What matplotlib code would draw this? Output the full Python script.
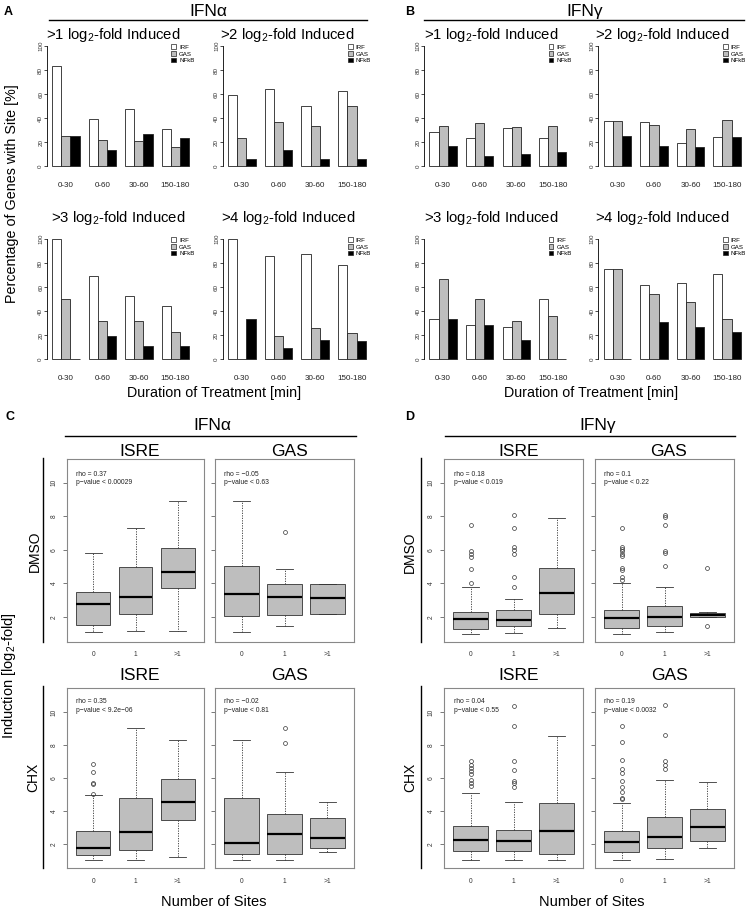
import matplotlib
matplotlib.use('Agg')
import matplotlib.pyplot as plt
from matplotlib.patches import Patch
from matplotlib.lines import Line2D

plt.rcParams['font.family'] = ['Liberation Sans', 'DejaVu Sans']
plt.rcParams['mathtext.default'] = 'regular'

# ---------------- data ----------------
time_windows = ['0-30', '0-60', '30-60', '150-180']
motifs = ['IRF', 'GAS', 'NFkB']
motif_colors = ['white', '#BEBEBE', 'black']

# percentage of genes with site, rows = IRF, GAS, NFkB ; columns = time windows
ifna_gt1 = [[83.3, 39.4, 47.8, 31.0], [25.0, 21.8, 21.2, 15.9], [25.0, 13.1, 26.5, 23.2]]
ifna_gt2 = [[59.1, 64.0, 50.0, 62.5], [23.5, 36.4, 33.3, 50.0], [5.9, 13.6, 5.6, 6.2]]
ifna_gt3 = [[100.0, 68.8, 52.6, 44.4], [50.0, 31.3, 31.6, 22.2], [0.0, 18.8, 10.5, 11.1]]
ifna_gt4 = [[100.0, 85.7, 87.1, 78.3], [0.0, 19.0, 25.8, 21.7], [33.3, 9.5, 16.1, 15.2]]
ifng_gt1 = [[28.0, 23.7, 31.5, 23.0], [33.3, 35.5, 32.6, 33.3], [16.7, 8.6, 9.8, 12.0]]
ifng_gt2 = [[37.5, 37.0, 19.5, 24.0], [37.5, 34.0, 31.0, 38.0], [25.0, 17.0, 15.5, 24.0]]
ifng_gt3 = [[33.3, 28.6, 26.3, 50.0], [66.7, 50.0, 31.6, 35.7], [33.3, 28.6, 15.8, 0.0]]
ifng_gt4 = [[75.0, 61.5, 63.2, 70.6], [75.0, 53.8, 47.4, 33.3], [0.0, 30.8, 26.3, 22.2]]

site_labels = ['0', '1', '>1']
# boxplot stats: whisker low, q1, median, q3, whisker high, outliers (per site count)
c_dmso_isre = dict(lo=[1.09, 1.15, 1.17], q1=[1.53, 2.15, 3.72], med=[2.75, 3.15, 4.68],
                   q3=[3.48, 4.94, 6.11], hi=[5.83, 7.30, 8.92], out=[[], [], []])
c_dmso_gas = dict(lo=[1.11, 1.45, 2.17], q1=[2.03, 2.09, 2.17], med=[3.38, 3.18, 3.09],
                  q3=[5.03, 3.94, 3.98], hi=[8.92, 4.87, 3.98], out=[[], [7.04], []])
c_chx_isre = dict(lo=[1.04, 1.00, 1.18], q1=[1.30, 1.66, 3.44], med=[1.76, 2.74, 4.52],
                  q3=[2.80, 4.78, 5.94], hi=[4.98, 9.04, 8.30],
                  out=[[5.06, 5.66, 5.70, 6.39, 6.83], [], []])
c_chx_gas = dict(lo=[1.04, 1.00, 1.48], q1=[1.40, 1.40, 1.74], med=[2.06, 2.58, 2.34],
                 q3=[4.80, 3.80, 3.58], hi=[8.30, 6.38, 4.54], out=[[], [8.10, 9.04], []])
d_dmso_isre = dict(lo=[0.94, 1.00, 1.30], q1=[1.26, 1.44, 2.14], med=[1.88, 1.82, 3.40],
                   q3=[2.30, 2.38, 4.90], hi=[3.80, 3.08, 7.90],
                   out=[[4.00, 4.84, 5.56, 5.76, 5.90, 7.46],
                        [3.80, 4.36, 5.76, 6.00, 6.16, 7.28, 8.10], []])
d_dmso_gas = dict(lo=[0.96, 1.06, 2.00], q1=[1.30, 1.46, 2.00], med=[1.90, 1.96, 2.12],
                  q3=[2.40, 2.64, 2.24], hi=[4.04, 3.80, 2.26],
                  out=[[4.20, 4.40, 4.80, 4.90, 5.60, 5.76, 5.90, 6.02, 6.18, 7.30],
                       [5.02, 5.80, 5.90, 7.46, 7.96, 8.10], [1.44, 4.90]])
d_chx_isre = dict(lo=[1.00, 1.00, 1.00], q1=[1.60, 1.60, 1.36], med=[2.24, 2.18, 2.76],
                  q3=[3.10, 2.86, 4.50], hi=[5.10, 4.54, 8.58],
                  out=[[5.54, 5.70, 5.86, 6.26, 6.40, 6.60, 6.80, 7.06],
                       [5.46, 5.70, 5.80, 6.46, 7.06, 9.14, 10.40], []])
d_chx_gas = dict(lo=[1.00, 1.10, 1.76], q1=[1.50, 1.74, 2.20], med=[2.10, 2.40, 3.00],
                 q3=[2.80, 3.62, 4.12], hi=[4.50, 5.86, 5.78],
                 out=[[4.74, 4.80, 5.14, 5.46, 5.80, 6.30, 6.54, 7.10, 8.20, 9.16],
                      [6.54, 6.80, 7.06, 8.60, 10.44], []])
rho_texts = {'c_dmso_isre': ('0.37', '0.00029'), 'c_dmso_gas': ('\u22120.05', '0.63'),
             'c_chx_isre': ('0.35', '9.2e\u221206'), 'c_chx_gas': ('\u22120.02', '0.81'),
             'd_dmso_isre': ('0.18', '0.019'), 'd_dmso_gas': ('0.1', '0.22'),
             'd_chx_isre': ('0.04', '0.55'), 'd_chx_gas': ('0.19', '0.0032')}

# ---------------- figure ----------------
W, H = 748, 909
fig = plt.figure(figsize=(W / 100, H / 100), dpi=100)


def ax_px(x0, y0, x1, y1):
    return fig.add_axes([x0 / W, 1 - y1 / H, (x1 - x0) / W, (y1 - y0) / H])


def ftext(x, y, s, **kw):
    fig.text(x / W, 1 - y / H, s, **kw)


def fline(x0, x1, y0, y1, lw=1.0):
    fig.add_artist(Line2D([x0 / W, x1 / W], [1 - y0 / H, 1 - y1 / H],
                          color='black', lw=lw, transform=fig.transFigure))


def bar_panel(rect, data):
    ax = ax_px(*rect)
    for m, vals in enumerate(data):
        lefts = [1 + g * 4 + m for g in range(len(time_windows))]
        ax.bar(lefts, vals, width=1, align='edge', color=motif_colors[m],
               edgecolor='#222222', linewidth=0.6)
    ax.set_xlim(0.4, 16.6)
    ax.set_ylim(-4, 104)
    for s in ['top', 'right', 'bottom']:
        ax.spines[s].set_visible(False)
    ax.spines['left'].set_bounds(0, 100)
    ax.spines['left'].set_linewidth(0.6)
    ax.set_yticks([0, 20, 40, 60, 80, 100])
    ax.tick_params(axis='y', length=2, width=0.5, labelsize=4.5, pad=0.5,
                   labelcolor='#333333')
    for lab in ax.get_yticklabels():
        lab.set_rotation(90)
        lab.set_va('center')
    ax.set_xticks([2.5 + 4 * g for g in range(len(time_windows))], time_windows)
    ax.tick_params(axis='x', length=0, labelsize=5.8, pad=8, labelcolor='#222222')
    handles = [Patch(facecolor=c, edgecolor='#222222', linewidth=0.5) for c in motif_colors]
    ax.legend(handles, motifs, loc='upper right', bbox_to_anchor=(1.0, 0.975), frameon=False,
              fontsize=4.4, handlelength=0.8, handleheight=0.8, handletextpad=0.5,
              labelspacing=0.2, borderpad=0, borderaxespad=0)
    return ax


# Panel A
bar_panel((46.7, 41.2, 194.5, 170.8), ifna_gt1)
bar_panel((222.5, 41.2, 371.2, 170.8), ifna_gt2)
bar_panel((46.7, 234.2, 194.5, 363.8), ifna_gt3)
bar_panel((222.5, 234.2, 371.2, 363.8), ifna_gt4)
# Panel B
bar_panel((424.0, 41.2, 571.9, 170.8), ifng_gt1)
bar_panel((598.3, 41.2, 746.2, 170.8), ifng_gt2)
bar_panel((424.0, 234.2, 571.9, 363.8), ifng_gt3)
bar_panel((598.3, 234.2, 746.2, 363.8), ifng_gt4)

sub_fs = 10.7
ftext(8.5, 12, 'A', fontsize=9, fontweight='bold', ha='center', va='center')
ftext(208, 16, 'IFN\u03b1', fontsize=12.5, ha='center', va='baseline')
fline(49, 367, 20, 20)
ftext(410, 12, 'B', fontsize=9, fontweight='bold', ha='center', va='center')
ftext(585, 16, 'IFN\u03b3', fontsize=12.5, ha='center', va='baseline')
fline(424, 744, 20, 20)
for (x, y, t) in [(113.3, 39.3, '>1'), (287.5, 39.3, '>2'), (118.3, 221.7, '>3'), (288.3, 221.7, '>4'),
                  (491.5, 39.3, '>1'), (662.3, 39.3, '>2'), (491.5, 221.7, '>3'), (662.3, 221.7, '>4')]:
    ftext(x, y, t + ' log$_2$-fold Induced', fontsize=sub_fs, ha='center', va='baseline')
ftext(12, 194, 'Percentage of Genes with Site [%]', fontsize=10.3, rotation=90,
      ha='center', va='center')
ftext(214, 393, 'Duration of Treatment [min]', fontsize=10.3, ha='center', va='center')
ftext(591, 393, 'Duration of Treatment [min]', fontsize=10.3, ha='center', va='center')


def box_panel(rect, d, key, left_labels):
    ax = ax_px(*rect)
    stats = []
    for i in range(3):
        stats.append(dict(med=d['med'][i], q1=d['q1'][i], q3=d['q3'][i],
                          whislo=d['lo'][i], whishi=d['hi'][i], fliers=d['out'][i]))
    ax.bxp(stats, positions=[1, 2, 3], widths=0.8, capwidths=0.4, patch_artist=True,
           manage_ticks=False,
           boxprops=dict(facecolor='#BEBEBE', edgecolor='#333333', linewidth=0.6),
           medianprops=dict(color='black', linewidth=1.6, solid_capstyle='butt'),
           whiskerprops=dict(color='#333333', linewidth=0.6, linestyle=(0, (1.5, 1.5))),
           capprops=dict(color='#333333', linewidth=0.6),
           flierprops=dict(marker='o', markerfacecolor='none', markeredgecolor='#333333',
                           markersize=2.8, markeredgewidth=0.5))
    ax.set_xlim(0.38, 3.62)
    ax.set_ylim(0.52, 11.45)
    for s in ax.spines.values():
        s.set_color('#888888')
        s.set_linewidth(0.8)
    ax.set_yticks([2, 4, 6, 8, 10])
    ax.tick_params(axis='y', length=3, width=0.5, color='#444444', labelsize=4.8, pad=3.5,
                   labelleft=left_labels, labelcolor='#333333')
    for lab in ax.get_yticklabels():
        lab.set_rotation(90)
        lab.set_va('center')
    ax.set_xticks([1, 2, 3], site_labels)
    ax.tick_params(axis='x', length=0, labelsize=4.8, pad=7, labelcolor='#333333')
    rho, p = rho_texts[key]
    return ax, rho, p


box_specs = [
    ((67, 458.5, 204, 641.5), c_dmso_isre, 'c_dmso_isre', True, 474.5),
    ((215, 458.5, 354, 641.5), c_dmso_gas, 'c_dmso_gas', False, 474.5),
    ((67, 688.3, 204, 868.3), c_chx_isre, 'c_chx_isre', True, 701.7),
    ((215, 688.3, 354, 868.3), c_chx_gas, 'c_chx_gas', False, 701.7),
    ((444, 458.5, 583.3, 641.5), d_dmso_isre, 'd_dmso_isre', True, 474.5),
    ((595, 458.5, 734, 641.5), d_dmso_gas, 'd_dmso_gas', False, 474.5),
    ((444, 688.3, 583.3, 868.3), d_chx_isre, 'd_chx_isre', True, 701.7),
    ((595, 688.3, 734, 868.3), d_chx_gas, 'd_chx_gas', False, 701.7),
]
for rect, d, key, ll, ty in box_specs:
    ax, rho, p = box_panel(rect, d, key, ll)
    ftext(rect[0] + 9.5, ty, 'rho = ' + rho, fontsize=4.9, ha='left', va='center',
          color='#222222')
    ftext(rect[0] + 9.5, ty + 8.3, 'p\u2212value < ' + p, fontsize=4.9, ha='left', va='center',
          color='#222222')

# Panel C/D headers and labels
ftext(10, 417, 'C', fontsize=9, fontweight='bold', ha='center', va='center')
ftext(212, 430, 'IFN\u03b1', fontsize=12.5, ha='center', va='baseline')
fline(65, 356, 436, 436)
ftext(410, 417, 'D', fontsize=9, fontweight='bold', ha='center', va='center')
ftext(598, 430, 'IFN\u03b3', fontsize=12.5, ha='center', va='baseline')
fline(445, 735, 436, 436)
for (x, y, t) in [(140, 456.5, 'ISRE'), (289, 456.5, 'GAS'), (140, 680, 'ISRE'), (289, 680, 'GAS'),
                  (518.7, 456.5, 'ISRE'), (668.5, 456.5, 'GAS'), (518.7, 680, 'ISRE'), (669, 680, 'GAS')]:
    ftext(x, y, t, fontsize=12.5, ha='center', va='baseline')
for (x, y, t) in [(35, 551, 'DMSO'), (33.5, 777, 'CHX'), (410, 552, 'DMSO'), (410.5, 777, 'CHX')]:
    ftext(x, y, t, fontsize=10, rotation=90, ha='center', va='center')
fline(43.3, 43.3, 458.3, 642.3)
fline(43.3, 43.3, 686, 868.3)
fline(420.7, 420.7, 458.3, 642.3)
fline(420.7, 420.7, 686, 868.3)
ftext(9, 676, 'Induction [log$_2$-fold]', fontsize=10.5, rotation=90, ha='center', va='center')
ftext(213.3, 902, 'Number of Sites', fontsize=10.5, ha='center', va='center')
ftext(591.5, 902, 'Number of Sites', fontsize=10.5, ha='center', va='center')

fig.savefig('out.png', dpi=100)
